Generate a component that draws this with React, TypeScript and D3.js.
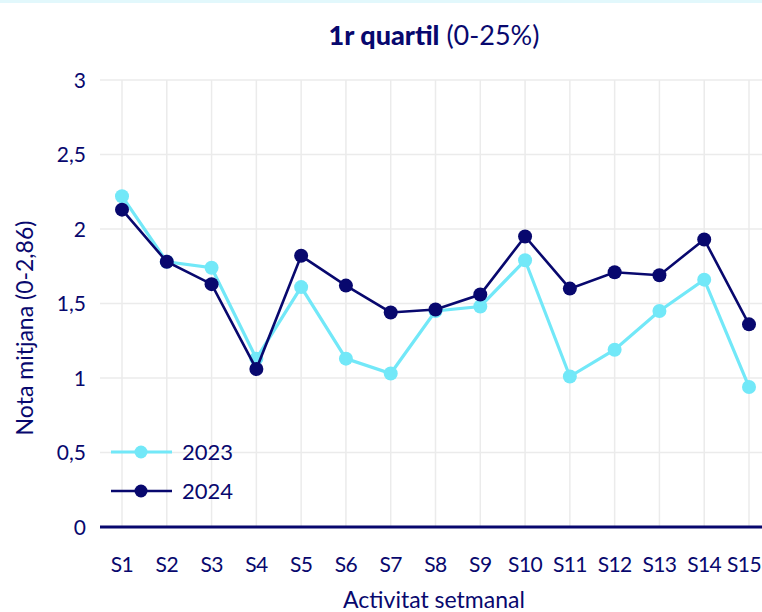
import React from "react";
import * as d3 from "d3";

const categories = ["S1","S2","S3","S4","S5","S6","S7","S8","S9","S10","S11","S12","S13","S14","S15"];
const values2023 = [2.22,1.78,1.74,1.13,1.61,1.13,1.03,1.45,1.48,1.79,1.01,1.19,1.45,1.66,0.94];
const values2024 = [2.13,1.78,1.63,1.06,1.82,1.62,1.44,1.46,1.56,1.95,1.60,1.71,1.69,1.93,1.36];
const yTicks = [0,0.5,1,1.5,2,2.5,3];
const seriesNames = ["2023","2024"];

const W = 762, H = 612;
const NAVY = "#08086e";
const CYAN = "#72e8f8";
const FONT = "Lato, 'Open Sans', sans-serif";

export default function App() {
  const x = d3.scalePoint<string>().domain(categories).range([122, 749]);
  const y = d3.scaleLinear().domain([0, 3]).range([527, 80]);
  const line = d3.line<number>().x((_, i) => x(categories[i]) as number).y(d => y(d));
  const fmt = (v: number) => String(v).replace(".", ",");
  const series = [
    { name: seriesNames[0], values: values2023, color: CYAN, width: 3.2 },
    { name: seriesNames[1], values: values2024, color: NAVY, width: 2.6 },
  ];
  return (
    <div style={{ position: "fixed", left: 0, top: 0 }}>
      <svg width={W} height={H} style={{ display: "block", background: "#fff" }} fontFamily={FONT}>
        <rect x={0} y={0} width={W} height={3} fill="#e2f8fc" />
        <text x={434} y={45} textAnchor="middle" fontSize={27} fill={NAVY}>
          <tspan fontWeight={900}>1r quartil</tspan>
          <tspan> (0-25%)</tspan>
        </text>
        {yTicks.filter(t => t > 0).map(t => (
          <line key={"h" + t} x1={100} x2={W} y1={y(t)} y2={y(t)} stroke="#ebebeb" strokeWidth={1.5} />
        ))}
        {categories.map(c => (
          <line key={"v" + c} x1={x(c)} x2={x(c)} y1={80} y2={527} stroke="#ebebeb" strokeWidth={1.5} />
        ))}
        <line x1={100} x2={W} y1={y(0)} y2={y(0)} stroke={NAVY} strokeWidth={3} />
        {yTicks.map(t => (
          <text key={"yt" + t} x={86} y={y(t)} dy="0.36em" textAnchor="end" fontSize={21} fill={NAVY}>{fmt(t)}</text>
        ))}
        {categories.map((c, i) => {
          const last = i === categories.length - 1;
          return (
            <text key={"xt" + c} x={last ? W - 1 : x(c)} y={572} textAnchor={last ? "end" : "middle"} fontSize={21} letterSpacing={-0.6} fill={NAVY}>{c}</text>
          );
        })}
        <text x={434} y={608} textAnchor="middle" fontSize={23} fill={NAVY}>Activitat setmanal</text>
        <text transform={`translate(33,328) rotate(-90)`} textAnchor="middle" fontSize={23} fill={NAVY}>Nota mitjana (0-2,86)</text>
        {series.map(s => (
          <g key={s.name}>
            <path d={line(s.values) || ""} fill="none" stroke={s.color} strokeWidth={s.width} />
            {s.values.map((v, i) => (
              <circle key={i} cx={x(categories[i])} cy={y(v)} r={7} fill={s.color} />
            ))}
          </g>
        ))}
        {series.map((s, i) => {
          const ly = 452 + i * 39;
          return (
            <g key={"lg" + s.name}>
              <line x1={111} x2={172} y1={ly} y2={ly} stroke={s.color} strokeWidth={s.width} />
              <circle cx={141} cy={ly} r={6.5} fill={s.color} />
              <text x={182} y={ly} dy="0.36em" fontSize={22} fill={NAVY}>{s.name}</text>
            </g>
          );
        })}
      </svg>
    </div>
  );
}
